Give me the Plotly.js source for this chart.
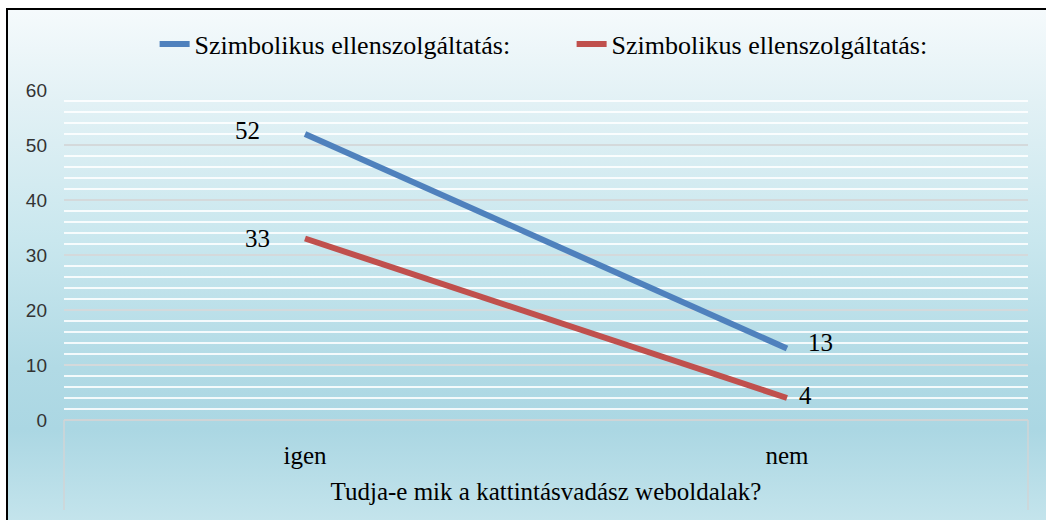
<!DOCTYPE html>
<html>
<head>
<meta charset="utf-8">
<script src="https://cdn.plot.ly/plotly-3.0.1.min.js"></script>
<style>
  html, body { margin:0; padding:0; background:#ffffff; }
  #bg {
    position:absolute; left:6px; top:8px; width:1040px; height:512px;
    border-left:2px solid #000; border-top:2px solid #000;
    background: linear-gradient(to bottom, #f5fafc 0%, #e2f1f5 18%, #c9e7ee 45%, #b1dae5 70%, #abd7e3 82%, #c4e4ec 100%);
  }
  #chart { position:absolute; left:0; top:0; width:1046px; height:520px; }
</style>
</head>
<body>
<div id="bg"></div>
<div id="chart"></div>
<script>
const categories = ['igen', 'nem'];
const seriesNames = ['Szimbolikus ellenszolgáltatás:', 'Szimbolikus ellenszolgáltatás:'];
const blueValues = [52, 13];
const redValues = [33, 4];
const yTickValues = [0, 10, 20, 30, 40, 50, 60];
const xAxisTitle = 'Tudja-e mik a kattintásvadász weboldalak?';

const serif = 'Liberation Serif';
const sans = 'Liberation Sans';

const traces = [
  {x: categories, y: blueValues, name: seriesNames[0], type: 'scatter', mode: 'lines',
   line: {color: '#4f81bd', width: 6}},
  {x: categories, y: redValues, name: seriesNames[1], type: 'scatter', mode: 'lines',
   line: {color: '#c0504d', width: 6}}
];

// data label offsets (style only)
const labelStyle = [
  [{xanchor: 'right', xshift: -43, yshift: 4}, {xanchor: 'left', xshift: 19, yshift: 6}],
  [{xanchor: 'right', xshift: -33, yshift: 0}, {xanchor: 'left', xshift: 10, yshift: 3}]
];
const annotations = [];
[blueValues, redValues].forEach((vals, s) => {
  vals.forEach((v, i) => {
    annotations.push(Object.assign({
      x: categories[i], y: v, xref: 'x', yref: 'y', text: String(v), showarrow: false,
      yanchor: 'middle', font: {family: serif, size: 25, color: '#000'}
    }, labelStyle[s][i]));
  });
});

const layout = {
  width: 1046, height: 520,
  margin: {l: 64, r: 18, t: 90, b: 100, pad: 0},
  paper_bgcolor: 'rgba(0,0,0,0)',
  plot_bgcolor: 'rgba(0,0,0,0)',
  font: {family: serif},
  showlegend: true,
  legend: {
    orientation: 'h', x: 0.094, xanchor: 'left', y: 1.139, yanchor: 'middle',
    entrywidth: 372, entrywidthmode: 'pixels',
    font: {family: serif, size: 26, color: '#000'},
    bgcolor: 'rgba(0,0,0,0)'
  },
  xaxis: {
    type: 'category', range: [-0.5, 1.5], showgrid: false, zeroline: false, showline: false,
    ticks: '', ticklabelstandoff: 18,
    tickfont: {family: serif, size: 25, color: '#000'},
    title: {text: xAxisTitle, font: {family: serif, size: 25, color: '#000'}, standoff: 14},
    fixedrange: true
  },
  yaxis: {
    range: [0, 60], tickvals: yTickValues, ticktext: yTickValues.map(String),
    showgrid: true, gridcolor: '#d4d9db', gridwidth: 1.5,
    minor: {dtick: 2, showgrid: true, gridcolor: 'rgba(255,255,255,0.85)', gridwidth: 1.5},
    zeroline: true, zerolinecolor: '#d0d4d6', zerolinewidth: 1.5,
    showline: false, ticks: '', ticklabelstandoff: 16,
    tickfont: {family: sans, size: 19, color: '#333333'},
    fixedrange: true
  },
  shapes: [
    {type: 'line', xref: 'paper', yref: 'paper', x0: 0, x1: 0, y0: 0, y1: -0.273,
     line: {color: '#d0d4d6', width: 1.5}},
    {type: 'line', xref: 'paper', yref: 'paper', x0: 1, x1: 1, y0: 0, y1: -0.273,
     line: {color: '#d0d4d6', width: 1.5}}
  ],
  annotations: annotations
};

Plotly.newPlot('chart', traces, layout, {displayModeBar: false, staticPlot: true});
</script>
</body>
</html>
